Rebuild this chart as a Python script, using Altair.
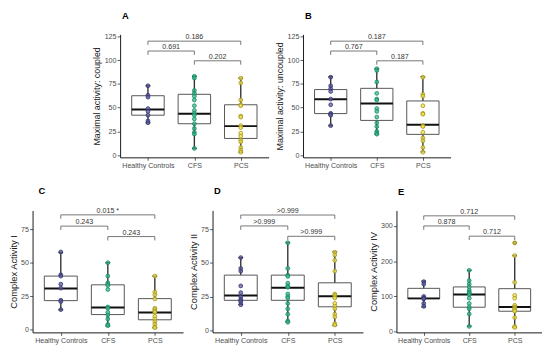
import altair as alt
import pandas as pd

groups = ["Healthy Controls", "CFS", "PCS"]
fill_colors = ["#5c5d9e", "#35b98f", "#f6e33c"]
stroke_colors = ["#323270", "#16865f", "#9d9120"]
br_from = [1, 1, 2]
br_to = [3, 2, 3]

# ---- Panel A: Maximal activity: coupled
a_hc = [73, 63, 61, 49, 46, 42, 36, 34]
a_cfs = [83, 81, 68, 65, 62, 58, 52, 47, 44, 42, 38, 33, 28, 24, 22, 7]
a_pcs = [81, 76, 58, 53, 52, 41, 40, 31, 29, 23, 20, 16, 14, 8, 5, 3]
a_q1 = [42, 33, 17.5]
a_med = [48, 43.5, 30.5]
a_q3 = [62.5, 64, 53]
a_lo = [34, 7, 3]
a_hi = [73, 83, 81]
a_br_y = [120, 109.6, 99.3]
a_br_end = [116, 105.5, 95.2]
a_br_lab = ["0.186", "0.691", "0.202"]

# ---- Panel B: Maximal activity: uncoupled
b_hc = [82, 73, 70, 67, 59, 53, 44, 43, 42, 31]
b_cfs = [91, 89, 77, 65, 59, 58, 49, 46, 40, 34, 30, 25, 23, 22]
b_pcs = [82, 64, 62, 52, 44, 43, 31, 30, 24, 18, 15, 8, 3]
b_q1 = [43.7, 36.5, 21.8]
b_med = [58.7, 54.3, 32]
b_q3 = [69, 70.3, 57]
b_lo = [31, 22, 3.4]
b_hi = [82.6, 90.8, 82.6]
b_br_y = [120, 109.6, 99.3]
b_br_end = [116, 105.5, 95.2]
b_br_lab = ["0.187", "0.767", "0.187"]

# ---- Panel C: Complex Activity I
c_hc = [58, 41, 40, 34, 31, 22, 21, 15]
c_cfs = [50, 40, 35, 34, 33, 30, 17, 16, 13, 11, 8, 4, 3]
c_pcs = [40, 28, 26, 23, 16, 15, 14, 13, 10, 8, 6, 4, 2, 1.5]
c_q1 = [21.7, 11.3, 7.4]
c_med = [30.8, 16.5, 12.8]
c_q3 = [40, 33.5, 23.2]
c_lo = [14.8, 2.7, 1.5]
c_hi = [57.6, 50, 40]
c_br_y = [85.7, 77.3, 69.5]
c_br_end = [82.8, 74.4, 66.6]
c_br_lab = ["0.015 *", "0.243", "0.243"]

# ---- Panel D: Complex Activity II
d_hc = [54, 46, 44, 33, 28, 25, 23, 22, 21, 19]
d_cfs = [65, 46, 41, 40, 35, 33, 32, 27, 25, 24, 20, 16, 12, 7, 6]
d_pcs = [58, 56, 52, 44, 27, 26, 25, 24, 20, 18, 16, 12, 10, 5, 4]
d_q1 = [22.3, 22.3, 17.5]
d_med = [25.9, 31.7, 25.4]
d_q3 = [41, 41, 35.3]
d_lo = [19.2, 6.5, 3.6]
d_hi = [54, 65.2, 58.3]
d_br_y = [85.6, 77.5, 69.8]
d_br_end = [82.7, 74.6, 66.9]
d_br_lab = [">0.999", ">0.999", ">0.999"]

# ---- Panel E: Complex Activity IV
e_hc = [142, 135, 100, 96, 95, 93, 80, 72]
e_cfs = [174, 145, 135, 127, 118, 113, 110, 105, 95, 80, 70, 65, 50, 15]
e_pcs = [252, 216, 140, 103, 95, 75, 70, 68, 65, 62, 58, 40, 15, 12]
e_q1 = [93.5, 69.4, 58]
e_med = [94.5, 105.6, 70]
e_q3 = [123, 127, 122]
e_lo = [70, 15.7, 12]
e_hi = [143.5, 174, 216]
e_out_grp = [3]
e_out_val = [252]
e_br_y = [328.7, 300, 271]
e_br_end = [317.5, 289, 260]
e_br_lab = ["0.712", "0.878", "0.712"]

FONT = "Liberation Sans"


def panel(letter, tdx, ytitle, pts, q1, med, q3, lo, hi, by, bend, blab,
          ydom, yticks, w, h, tfs, out_grp=None, out_val=None):
    box = pd.DataFrame({"idx": [1, 2, 3], "q1": q1, "med": med, "q3": q3,
                        "lo": lo, "hi": hi})
    rows = []
    for i, vals in enumerate(pts):
        for v in vals:
            rows.append({"idx": i + 1, "v": v, "fill": fill_colors[i],
                         "stroke": stroke_colors[i]})
    pdf = pd.DataFrame(rows)
    br = pd.DataFrame({"x1": br_from, "x2": br_to, "y": by, "yend": bend,
                       "label": blab})
    xs = alt.Scale(domain=[0.4, 3.6], nice=False, zero=False)
    ys = alt.Scale(domain=ydom, nice=False, zero=False)
    label_expr = "datum.value == 1 ? '%s' : datum.value == 2 ? '%s' : '%s'" % tuple(groups)
    xax = alt.Axis(values=[1, 2, 3], labelExpr=label_expr, title=None,
                   labelPadding=1.5)
    yax = alt.Axis(values=yticks, title=ytitle, titleFontSize=tfs,
                   labelPadding=1.2, titlePadding=2.5)

    def X(f):
        return alt.X(f, scale=xs, axis=xax)

    def Y(f):
        return alt.Y(f, scale=ys, axis=yax)

    bb = alt.Chart(box).transform_calculate(
        bl="datum.idx - 0.35", br="datum.idx + 0.35",
        cl="datum.idx - 0.05", cr="datum.idx + 0.05")
    whisk = bb.mark_rule(color="#333333", strokeWidth=1.4).encode(
        x=X("idx:Q"), y=Y("lo:Q"), y2="hi:Q")
    caps = bb.transform_fold(["lo", "hi"], as_=["k", "cv"]).mark_rule(
        color="#222222", strokeWidth=1.3).encode(
        x=X("cl:Q"), x2="cr:Q", y=Y("cv:Q"))
    rect = bb.mark_rect(fill="white", stroke="#555555", strokeWidth=1).encode(
        x=X("bl:Q"), x2="br:Q", y=Y("q1:Q"), y2="q3:Q")
    medl = bb.mark_rule(color="#111111", strokeWidth=2).encode(
        x=X("bl:Q"), x2="br:Q", y=Y("med:Q"))
    layers = [whisk, caps, rect, medl]
    if out_grp:
        odf = pd.DataFrame({"idx": out_grp, "v": out_val})
        layers.append(alt.Chart(odf).mark_circle(size=16, color="#222222", opacity=1).encode(
            x=X("idx:Q"), y=Y("v:Q")))
    points = alt.Chart(pdf).mark_circle(size=15, fillOpacity=0.75,
                                        strokeWidth=0.8, opacity=1).encode(
        x=X("idx:Q"), y=Y("v:Q"),
        fill=alt.Fill("fill:N", scale=None),
        stroke=alt.Stroke("stroke:N", scale=None))
    layers.append(points)
    bh = alt.Chart(br).mark_rule(color="#666666", strokeWidth=0.9).encode(
        x=X("x1:Q"), x2="x2:Q", y=Y("y:Q"))
    legs = alt.Chart(br).transform_fold(["x1", "x2"], as_=["k", "xv"]).mark_rule(
        color="#666666", strokeWidth=0.9).encode(
        x=X("xv:Q"), y=Y("y:Q"), y2="yend:Q")
    btxt = alt.Chart(br).transform_calculate(xm="(datum.x1 + datum.x2) / 2").mark_text(
        baseline="alphabetic", dy=-2, fontSize=7.2, color="#333333", font=FONT).encode(
        x=X("xm:Q"), y=Y("y:Q"), text="label:N")
    layers += [bh, legs, btxt]
    return alt.layer(*layers).properties(
        width=w, height=h,
        title=alt.TitleParams(letter, anchor="start", frame="group", dx=tdx,
                              offset=12, fontSize=9.5, fontWeight="bold",
                              font=FONT, color="black"))


def spacer(w, h):
    return alt.Chart(pd.DataFrame({"s": [0]})).mark_point(opacity=0, size=1).encode(
        x=alt.value(0), y=alt.value(0)).properties(width=w, height=h)


pA = panel("A", 2, "Maximal activity: coupled", [a_hc, a_cfs, a_pcs], a_q1, a_med, a_q3,
           a_lo, a_hi, a_br_y, a_br_end, a_br_lab, [-2.4, 127.1], [0, 25, 50, 75, 100, 125],
           151, 125, 9)
pB = panel("B", 2, "Maximal activity: uncoupled", [b_hc, b_cfs, b_pcs], b_q1, b_med, b_q3,
           b_lo, b_hi, b_br_y, b_br_end, b_br_lab, [-2.4, 127.1], [0, 25, 50, 75, 100, 125],
           150, 125, 9)
pC = panel("C", 6, "Complex Activity I", [c_hc, c_cfs, c_pcs], c_q1, c_med, c_q3,
           c_lo, c_hi, c_br_y, c_br_end, c_br_lab, [-2, 89], [0, 25, 50, 75],
           153, 124, 9.5)
pD = panel("D", 1.5, "Complex Activity II", [d_hc, d_cfs, d_pcs], d_q1, d_med, d_q3,
           d_lo, d_hi, d_br_y, d_br_end, d_br_lab, [-1.5, 89], [0, 25, 50, 75],
           153, 124, 9.5)
pE = panel("E", 1.5, "Complex Activity IV", [e_hc, e_cfs, e_pcs], e_q1, e_med, e_q3,
           e_lo, e_hi, e_br_y, e_br_end, e_br_lab, [-2, 344], [0, 100, 200, 300],
           148, 124, 9.5, e_out_grp, e_out_val)

row1 = alt.hconcat(spacer(89, 125), pA, spacer(35, 125), pB,
                   spacing=0, bounds="flush")
row2 = alt.hconcat(pC, spacer(30, 124), pD, spacer(34, 124), pE,
                   spacing=0, bounds="flush")

chart = alt.vconcat(row1, row2, spacing=16).properties(padding=0).configure_view(
    stroke=None).configure_axis(
    labelFont=FONT, titleFont=FONT, labelFontSize=7.2, labelColor="#4d4d4d",
    titleColor="#1a1a1a", titleFontWeight="normal", domainColor="#1a1a1a",
    domainWidth=1, tickColor="#333333", tickSize=3, tickWidth=0.8, grid=False)

chart.save("out.html", embed_options={"renderer": "svg", "actions": False})
